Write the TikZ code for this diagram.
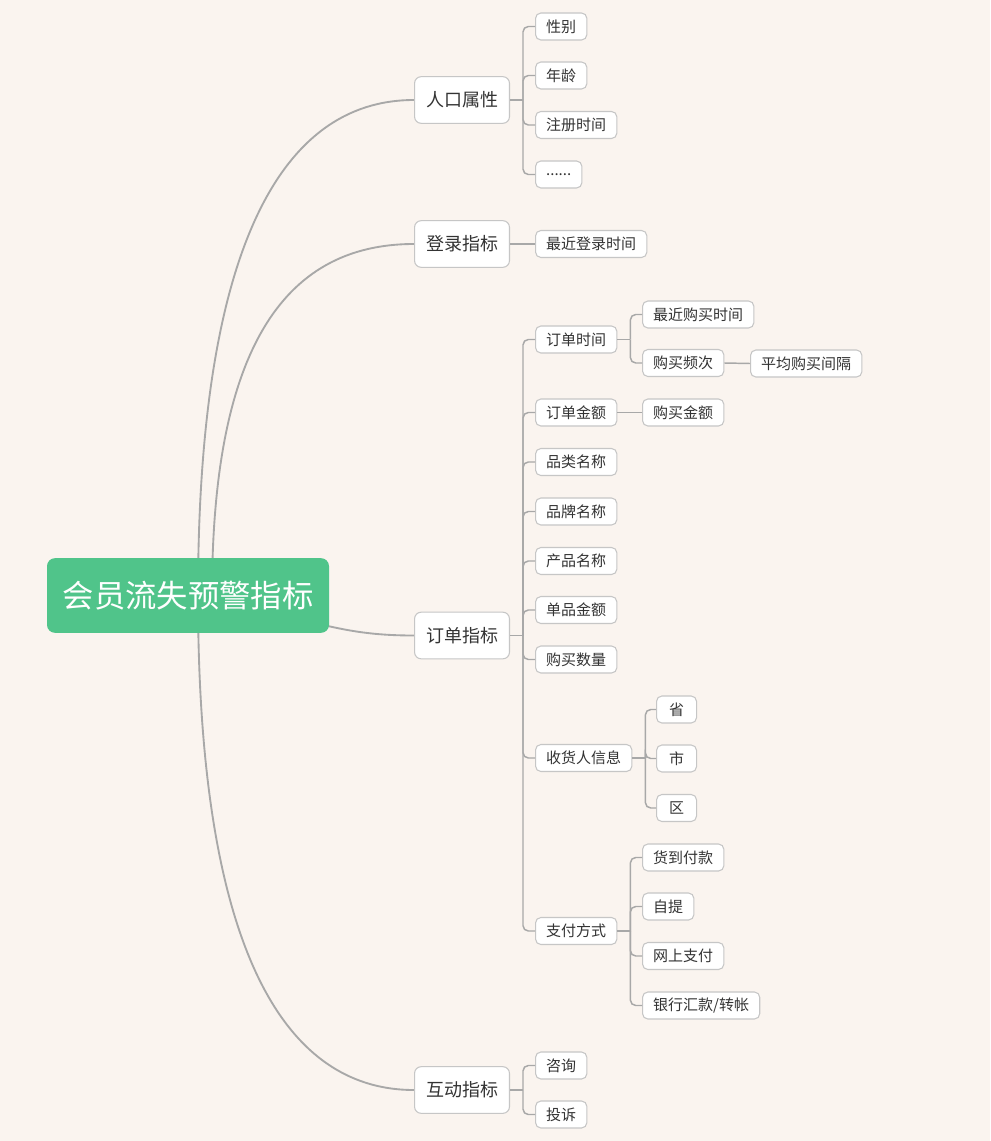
\documentclass[tikz,border=0pt]{standalone}
\usepackage{fontspec}
\setmainfont{Noto Sans CJK SC}
\usetikzlibrary{calc}
\definecolor{paper}{HTML}{FAF4EF}
\definecolor{mint}{HTML}{50C48A}
\definecolor{wire}{HTML}{A8A8A8}
\definecolor{rim}{HTML}{C6C6C6}
\definecolor{ink}{HTML}{333333}
\pgfdeclarelayer{bg}
\pgfdeclarelayer{wires}
\pgfsetlayers{bg,wires,main}
\tikzset{
  rootbox/.style={fill=mint,rounded corners=6pt,text=white,
    font=\fontsize{23.5}{26}\selectfont,inner xsep=11.75pt,inner ysep=1pt,minimum height=56pt},
  topic/.style={draw=rim,fill=white,rounded corners=5pt,text=ink,line width=0.8pt,
    font=\fontsize{13.5}{15}\selectfont,inner xsep=8.6pt,inner ysep=1pt,minimum height=35pt,anchor=west},
  leaf/.style={draw=rim,fill=white,rounded corners=4pt,text=ink,line width=0.8pt,
    font=\fontsize{11.25}{13}\selectfont,inner xsep=8pt,inner ysep=1pt,minimum height=20.25pt,anchor=west},
  curve/.style={draw=wire,line width=1.4pt},
  fork/.style={draw=wire,line width=1.1pt,rounded corners=4pt},
}

\begin{document}
\begin{tikzpicture}[x=0.75pt,y=-0.75pt]
    \begin{pgfonlayer}{bg}
      \fill[paper] (0,0) rectangle (990,1141);
    \end{pgfonlayer}
    \useasboundingbox (0,0) rectangle (990,1141);
    % central topic and main branches
    \node[rootbox] (root) at (188,595.5) {会员流失预警指标};
    \node[topic] (ppl) at (414,100) {人口属性};
    \node[topic] (login) at (414,244) {登录指标};
    \node[topic] (order) at (414,635.5) {订单指标};
    \node[topic] (talk) at (414,1090) {互动指标};
    % second level
    \foreach \n/\y/\t in {sex/26.5/性别,age/75.5/年龄,reg/125/注册时间,
        lastlogin/244/最近登录时间,otime/339.5/订单时间,oamt/412.5/订单金额,
        cat/462/品类名称,brand/511.5/品牌名称,prod/561/产品名称,unit/610/单品金额,
        qty/659.5/购买数量,recv/758/收货人信息,pay/931/支付方式,ask/1065.5/咨询,
        complain/1114.5/投诉}
      \node[leaf] (\n) at (535,\y) {\t};
    \node[leaf] (etc) at (535,174.5) {......};
    % third and fourth level
    \foreach \n/\y/\t in {lastbuy/314.5/最近购买时间,freq/363/购买频次,buyamt/412.5/购买金额,
        cod/857.5/货到付款,pickup/906.5/自提,online/956/网上支付}
      \node[leaf] (\n) at (642,\y) {\t};
    \node[leaf] (bank) at (642,1005.5) {银行汇款/转帐};
    \foreach \n/\y/\t in {prov/709.5/省,city/758.5/市,dist/808/区}
      \node[leaf,minimum width=30pt] (\n) at (656,\y) {\t};
    \node[leaf] (avggap) at (750,363.5) {平均购买间隔};
    % curved links from the central topic
    \begin{pgfonlayer}{wires}
      \draw[curve] ($(root.center)+(10,0)$) .. controls ($(root.center)+(10,-345)$)
        and ($(ppl.west)+(-134,0)$) .. (ppl.west);
      \draw[curve] ($(root.center)+(24,0)$) .. controls ($(root.center)+(24,-240)$)
        and ($(login.west)+(-134,0)$) .. (login.west);
      \draw[curve] ($(root.center)+(100,20)$) .. controls ($(root.center)+(152,35)$)
        and ($(order.west)+(-44,0)$) .. (order.west);
      \draw[curve] ($(root.center)+(10,0)$) .. controls ($(root.center)+(10,345)$)
        and ($(talk.west)+(-134,0)$) .. (talk.west);
    \end{pgfonlayer}
    % elbow links: stub out of the parent, then one rounded turn per child
    \foreach \p/\kids in {ppl/{sex,age,reg,etc},
        order/{otime,oamt,cat,brand,prod,unit,qty,recv,pay},
        talk/{ask,complain},otime/{lastbuy,freq},recv/{prov,city,dist},
        pay/{cod,pickup,online,bank}}{
      \draw[fork] (\p.east) -- ++(13,0);
      \foreach \c in \kids
        \draw[fork] ($(\p.east)+(13,0)$) |- (\c.west);}
    \draw[fork] (login.east) -- (lastlogin.west);
    \draw[fork] (oamt.east) -- (buyamt.west);
    \draw[fork] (freq.east) -- (avggap.west);
  \end{tikzpicture}
\end{document}
